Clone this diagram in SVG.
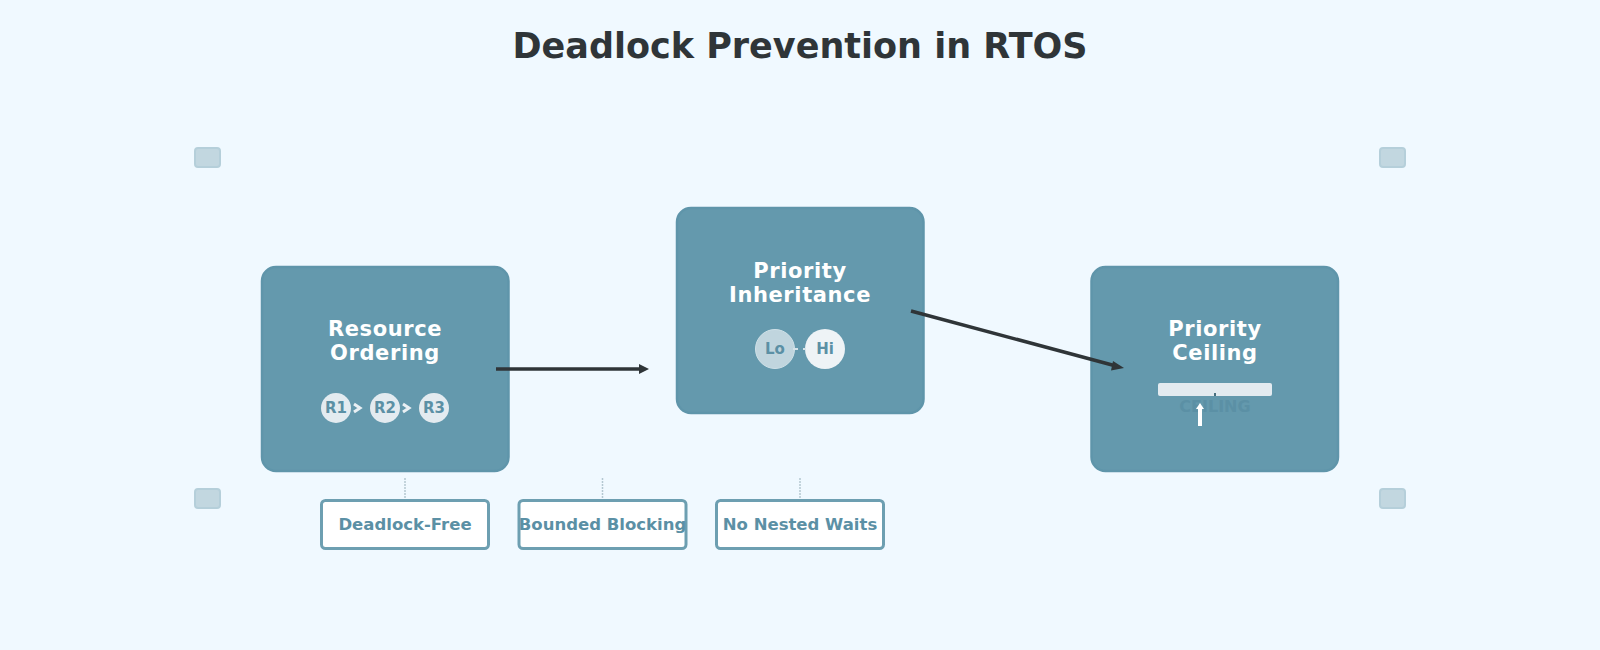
<svg xmlns="http://www.w3.org/2000/svg" width="1600" height="650" viewBox="0 0 1600 650">
<style>
text{font-family:"DejaVu Sans",sans-serif;font-weight:bold;text-anchor:middle}
.box{fill:#6499ad;stroke:#5f95aa;stroke-width:2.500}
.t{fill:#fff;font-size:21px;letter-spacing:.6px}
.res{fill:#e3ebf0}
.s{fill:#5b90a5;font-size:15px}
.tag{fill:#fff;stroke:#6d9fb1;stroke-width:3}
.tt{fill:#5b90a5;font-size:16.500px}
.c{fill:#c2d7e0;stroke:#b5cfda;stroke-width:2}
.a{stroke:#2f3538;stroke-width:3.500;fill:none}
.d{stroke:#b4c8d1;stroke-width:1.500;stroke-dasharray:2 1}
</style>
<rect width="1600" height="650" fill="#f0f9ff"/>
<text x="800" y="58" font-size="35" fill="#2f3538">Deadlock Prevention in RTOS</text>
<g id="corners">
<rect class="c" x="195" y="148" width="25" height="19" rx="3"/>
<rect class="c" x="1380" y="148" width="25" height="19" rx="3"/>
<rect class="c" x="195" y="489" width="25" height="19" rx="3"/>
<rect class="c" x="1380" y="489" width="25" height="19" rx="3"/>
</g>
<g id="node-resource">
<rect class="box" x="262" y="267" width="246.500" height="204" rx="14"/>
<text class="t" x="385" y="336">Resource</text>
<text class="t" x="385" y="360">Ordering</text>
<circle class="res" cx="336" cy="408" r="15"/><circle class="res" cx="385" cy="408" r="15"/><circle class="res" cx="434" cy="408" r="15"/>
<text class="s" x="336" y="413">R1</text><text class="s" x="385" y="413">R2</text><text class="s" x="434" y="413">R3</text>
<path d="M354 404L360 408L354 412M403 404L409 408L403 412" fill="none" stroke="#e9f0f4" stroke-width="3"/>
</g>
<g id="node-inheritance">
<rect class="box" x="677" y="208" width="246.500" height="205" rx="14"/>
<text class="t" x="800" y="278">Priority</text>
<text class="t" x="800" y="302">Inheritance</text>
<circle cx="775" cy="349" r="19.500" fill="#c0d5de" stroke="#cfe1e8" stroke-width="1"/>
<circle cx="825" cy="349" r="20" fill="#eef3f6"/>
<text class="s" x="775" y="354">Lo</text><text class="s" x="825" y="354">Hi</text>
<path d="M793 349H798M803 349H806" stroke="#d5e3e9" stroke-width="2"/>
</g>
<g id="node-ceiling">
<rect class="box" x="1091.500" y="267" width="246.500" height="204" rx="14"/>
<text class="t" x="1215" y="336">Priority</text>
<text class="t" x="1215" y="360">Ceiling</text>
<text x="1215" y="412" font-size="16" fill="#5b90a5">CEILING</text>
<rect x="1158" y="383" width="114" height="13" rx="2" fill="#e3ebf0"/>
<path d="M1215 393V396" stroke="#49707f" stroke-width="2"/>
<path d="M1200 426V409" stroke="#fff" stroke-width="4"/>
<path d="M1196 409L1200 403L1204 409Z" fill="#fff"/>
</g>
<g id="connectors">
<path class="a" d="M496 369H642"/>
<path d="M639 364L649 369L639 374Z" fill="#2f3538"/>
<path class="a" d="M911 311L1116 366"/>
<path d="M1113 361L1124 368L1111 370.500Z" fill="#2f3538"/>
<path class="d" d="M405 478V500M602.500 478V500M800 478V500"/>
</g>
<g id="tag-1"><rect class="tag" x="321.500" y="500.500" width="167" height="48" rx="4"/><text class="tt" x="405" y="530">Deadlock-Free</text></g>
<g id="tag-2"><rect class="tag" x="519" y="500.500" width="167" height="48" rx="4"/><text class="tt" x="602.500" y="530">Bounded Blocking</text></g>
<g id="tag-3"><rect class="tag" x="716.500" y="500.500" width="167" height="48" rx="4"/><text class="tt" x="800" y="530">No Nested Waits</text></g>
</svg>
